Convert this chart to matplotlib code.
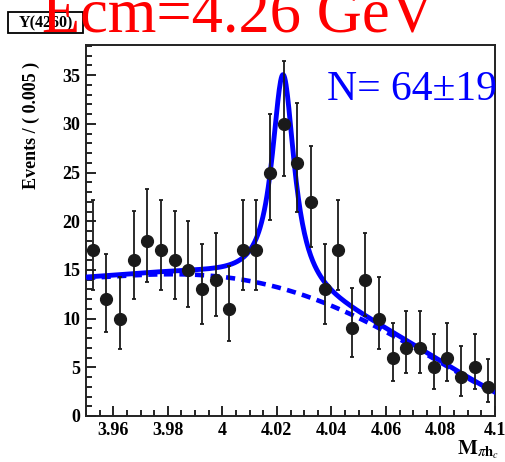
import numpy as np
import matplotlib
matplotlib.use("Agg")
import matplotlib.pyplot as plt
from matplotlib.ticker import MultipleLocator
from matplotlib.patches import Rectangle

plt.rcParams['font.family'] = ['Liberation Serif', 'DejaVu Serif']
plt.rcParams['mathtext.fontset'] = 'stix'

# data: bin centres (width 0.005) and counts
bin_centres = [3.9525, 3.9575, 3.9625, 3.9675, 3.9725, 3.9775, 3.9825, 3.9875,
               3.9925, 3.9975, 4.0025, 4.0075, 4.0125, 4.0175, 4.0225, 4.0275,
               4.0325, 4.0375, 4.0425, 4.0475, 4.0525, 4.0575, 4.0625, 4.0675,
               4.0725, 4.0775, 4.0825, 4.0875, 4.0925, 4.0975]
counts = [17, 12, 10, 16, 18, 17, 16, 15, 13, 14, 11, 17, 17, 25, 30,
          26, 22, 13, 17, 9, 14, 10, 6, 7, 7, 5, 6, 4, 5, 3]
# error bar ends (asymmetric poisson)
err_low = [12.9, 8.6, 6.9, 12.0, 13.8, 12.9, 12.0, 11.2, 9.4, 10.3, 7.7, 12.9, 12.9,
           20.1, 24.6, 21.0, 17.4, 9.4, 12.9, 6.1, 10.3, 6.9, 3.6, 4.4, 4.4, 2.8,
           3.6, 2.1, 2.8, 1.4]
err_high = [22.2, 16.6, 14.3, 21.1, 23.3, 22.2, 21.1, 20.0, 17.7, 18.8, 15.4, 22.2,
            22.2, 31.0, 36.5, 32.1, 27.7, 17.7, 22.2, 13.1, 18.8, 14.3, 9.6, 10.8,
            10.8, 8.4, 9.6, 7.2, 8.4, 5.9]

# background shape (dashed curve) read at a few masses
bkg_x = [3.95, 3.96, 3.97, 3.98, 3.99, 4.00, 4.0165, 4.0387, 4.051, 4.06, 4.08, 4.10]
bkg_y = [14.15, 14.35, 14.5, 14.55, 14.5, 14.3, 13.4, 11.6, 9.9, 8.6, 5.5, 2.35]
# signal (Breit-Wigner) parameters
sig_mass = 4.0223
sig_width = 0.010
sig_height = 22.0

x_min, x_max = 3.95, 4.1
y_min, y_max = 0, 38.1

counts = np.array(counts)
yerr = [counts - np.array(err_low), np.array(err_high) - counts]

bkg_coef = np.polyfit(bkg_x, bkg_y, 4)
xs = np.linspace(x_min, x_max, 600)
bkg = np.polyval(bkg_coef, xs)
sig = sig_height * (sig_width / 2) ** 2 / ((xs - sig_mass) ** 2 + (sig_width / 2) ** 2)

fig = plt.figure(figsize=(5.05, 4.62), dpi=100)
ax = fig.add_axes([86 / 505, 1 - 416 / 462, 409 / 505, 371 / 462])

blue = '#0000ff'
ax.plot(xs, bkg, color=blue, lw=3.3, ls=(0, (2.0, 1.4)), zorder=2)
ax.plot(xs, bkg + sig, color=blue, lw=3.5, zorder=3)
ax.errorbar(bin_centres, counts, yerr=yerr, fmt='o', color='#1a1a1a', ms=8.5,
            elinewidth=1.3, capsize=1.6, capthick=1.3, zorder=4)

ax.set_xlim(x_min, x_max)
ax.set_ylim(y_min, y_max)
ax.xaxis.set_major_locator(MultipleLocator(0.02))
ax.xaxis.set_minor_locator(MultipleLocator(0.005))
ax.yaxis.set_major_locator(MultipleLocator(5))
ax.yaxis.set_minor_locator(MultipleLocator(1))
ax.set_xticks([3.96, 3.98, 4.0, 4.02, 4.04, 4.06, 4.08, 4.1])
ax.set_xticklabels(['3.96', '3.98', '4', '4.02', '4.04', '4.06', '4.08', '4.1'])
ax.tick_params(which='both', direction='in', top=False, right=False, width=1.2,
               labelsize=13, pad=4)
ax.tick_params(which='major', length=7.5)
ax.tick_params(which='minor', length=4)
for lab in ax.get_xticklabels() + ax.get_yticklabels():
    lab.set_fontweight('bold')
for sp in ax.spines.values():
    sp.set_linewidth(1.4)
    sp.set_color('#222222')

fig.text(31 / 505, 1 - 125 / 462, 'Events / ( 0.005 )', rotation=90, ha='center',
         va='center', fontsize=13, fontweight='bold')
fig.text(478 / 505, 1 - 450 / 462, r'$\mathbf{M}_{\pi \mathbf{h}_c}$', ha='center',
         va='center', fontsize=15)

# Y(4260) label box
fig.patches.append(Rectangle((8 / 505, 1 - 33 / 462), 75 / 505, 21 / 462,
                             transform=fig.transFigure, fc='white', ec='black', lw=1.3))
fig.text(45.5 / 505, 1 - 23 / 462, 'Y(4260)', ha='center', va='center', fontsize=11.5,
         fontweight='bold')
fig.text(238 / 505, 1 - 32 / 462, 'Ecm=4.26 GeV', ha='center', va='baseline',
         fontsize=45, color='#ff0000')
fig.text(327 / 505, 1 - 100 / 462, 'N= 64\u00b119', ha='left', va='baseline',
         fontsize=30, color=blue)

fig.savefig('out.png', dpi=100)
